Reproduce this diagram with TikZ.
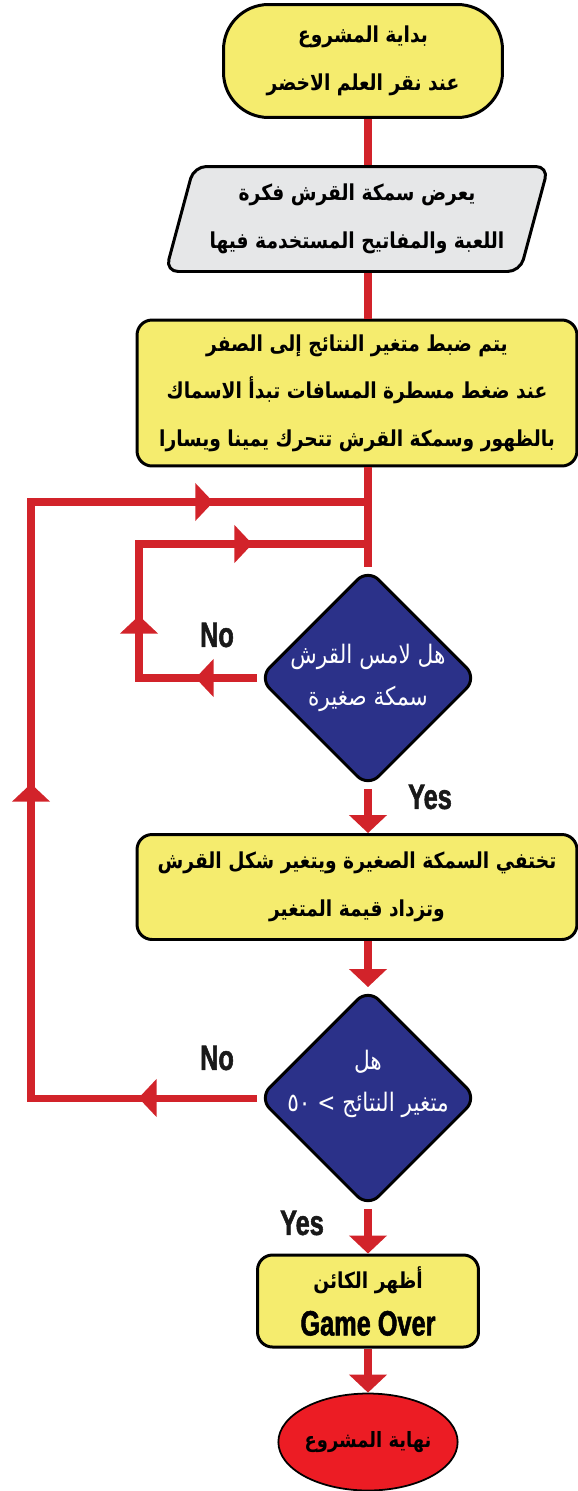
\documentclass[tikz,border=0pt]{standalone}
\usepackage{fontspec}
\usetikzlibrary{arrows.meta, shapes.geometric, decorations.markings}
\TeXXeTstate=1
\newfontfamily\arabicfont[Script=Arabic, FakeStretch=0.85]{DejaVu Sans}
\newfontfamily\condfont[FakeStretch=0.72, FakeBold=1.5]{Liberation Sans Bold}
\definecolor{flowred}{HTML}{D2232A}
\definecolor{boxyellow}{HTML}{F5EC6E}
\definecolor{boxgray}{HTML}{E6E7E8}
\definecolor{decblue}{HTML}{2B3189}
\definecolor{endred}{HTML}{EC1C24}
\tikzset{
  flow/.style={color=flowred, line width=4pt},
  flowtip/.style={-{Triangle[length=3.6mm, width=7.4mm]}},
  tipat/.style={postaction={decorate, decoration={markings, mark=at position #1 with {\arrow{Triangle[length=3.6mm, width=7.4mm]}}}}},
  startbox/.style={draw, line width=1.7pt, fill=boxyellow, rounded corners=0.9cm, minimum width=5.58cm, minimum height=2.26cm, inner sep=0pt, align=center, font=\arabicfont\bfseries\fontsize{12.5}{27}\selectfont},
  inbox/.style={trapezium, trapezium left angle=68, trapezium right angle=112, trapezium stretches=true, draw, line width=1.7pt, fill=boxgray, rounded corners=0.25cm, minimum width=7.66cm, minimum height=2.1cm, inner ysep=0pt, inner xsep=0.3cm, align=center, font=\arabicfont\bfseries\fontsize{12.5}{27}\selectfont},
  procbox/.style={draw, line width=1.7pt, fill=boxyellow, rounded corners=0.3cm, inner sep=0pt, align=center, font=\arabicfont\bfseries\fontsize{12.5}{27}\selectfont},
  decision/.style={diamond, draw, line width=1.7pt, fill=decblue, rounded corners=0.3cm, minimum width=4.38cm, minimum height=4.38cm, inner sep=0pt},
  dtext/.style={text=white, align=center, font=\arabicfont\fontsize{14.5}{24}\selectfont},
  endnode/.style={ellipse, draw, line width=1pt, fill=endred, minimum width=3.28cm, minimum height=1.94cm, inner sep=0pt, font=\arabicfont\bfseries\fontsize{12}{27}\selectfont},
  answer/.style={font=\condfont\fontsize{20}{20}\selectfont, text=black!90}
}
\begin{document}
\begin{tikzpicture}[x=0.02cm, y=-0.02cm]
  \useasboundingbox (0,0) rectangle (578,1491);

  \node[startbox] (start) at (363,61) {\beginR بداية المشروع\endR\\\beginR عند نقر العلم الاخضر\endR};
  \node[inbox] (idea) at (357,219) {\beginR يعرض سمكة القرش فكرة\endR\\\beginR اللعبة والمفاتيح المستخدمة فيها\endR};
  \node[procbox, minimum width=8.8cm, minimum height=2.92cm] (reset) at (357,393) {\beginR يتم ضبط متغير النتائج إلى الصفر\endR\\\beginR عند ضغط مسطرة المسافات تبدأ الاسماك\endR\\\beginR بالظهور وسمكة القرش تتحرك يمينا ويسارا\endR};
  \node[decision, label={[dtext]center:{\beginR هل لامس القرش\endR\\\beginR سمكة صغيرة\endR}}] (touch) at (368,678) {};
  \node[procbox, minimum width=8.8cm, minimum height=2.1cm] (eat) at (357,887) {\beginR تختفي السمكة الصغيرة ويتغير شكل القرش\endR\\\beginR وتزداد قيمة المتغير\endR};
  \node[decision, label={[dtext, yshift=0.28cm]center:{\beginR هل\endR\\\beginR متغير النتائج > ٥٠\endR}}] (score) at (368,1098) {};
  \node[procbox, minimum width=4.42cm, minimum height=1.84cm] (over) at (368,1301) {\beginR أظهر الكائن\endR\\{\condfont\mdseries\fontsize{20}{20}\selectfont Game Over}};
  \node[endnode] (finish) at (368,1442) {\beginR نهاية المشروع\endR};

  \node[answer] (no1) at (217,635) {No};
  \node[answer] (yes1) at (430,797) {Yes};
  \node[answer] (no2) at (217,1058) {No};
  \node[answer] (yes2) at (302,1223) {Yes};

  \coordinate (outer) at (368,502);
  \coordinate (outertop) at (31,502);
  \coordinate (outerlow) at (31,1098);
  \coordinate (inner) at (368,544);
  \coordinate (innertop) at (139,544);
  \coordinate (innerlow) at (139,678);

  \draw[flow] (start.south -| touch) -- (idea.north -| touch);
  \draw[flow] (idea.south -| touch) -- (reset.north -| touch);
  \draw[flow] (reset.south -| touch) -- (touch.north);
  \draw[flow, flowtip] (touch.south) -- (eat.north -| touch);
  \draw[flow, flowtip] (eat.south -| touch) -- (score.north);
  \draw[flow, flowtip] (score.south) -- (over.north);
  \draw[flow, flowtip] (over.south) -- (finish.north);

  \draw[flow, tipat=2.37cm, tipat=10.81cm, tipat=20.09cm] (score.west) -- (outerlow) -- (outertop) -- (outer);
  \draw[flow, tipat=1.23cm, tipat=3.61cm, tipat=7.31cm] (touch.west) -- (innerlow) -- (innertop) -- (inner);
\end{tikzpicture}
\end{document}
